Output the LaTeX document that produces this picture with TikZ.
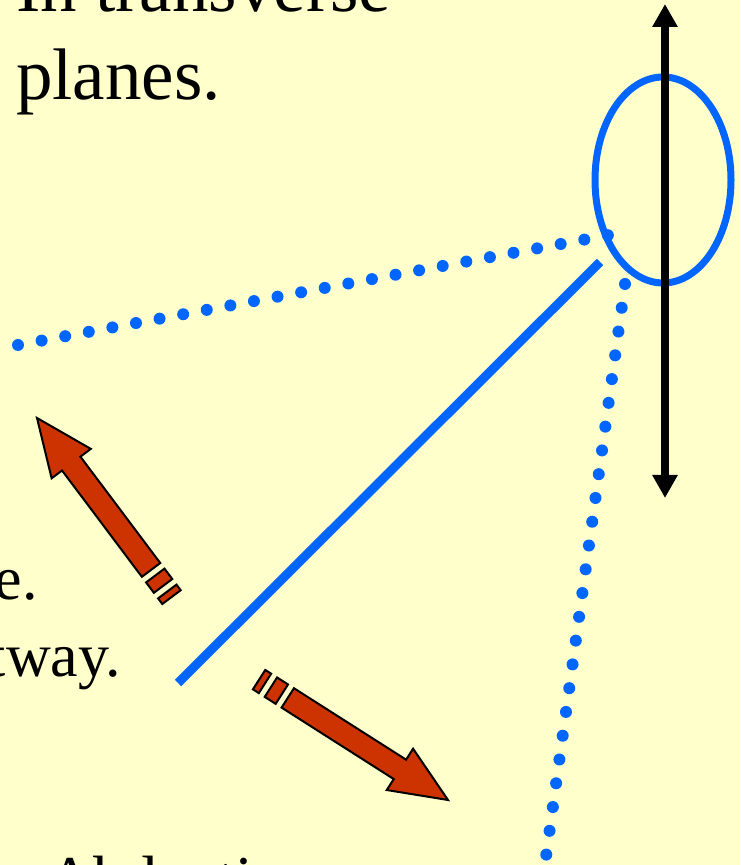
\documentclass[tikz,border=0pt]{standalone}
\usepackage{fontspec}
\setmainfont{Liberation Serif}
\usepackage{tikz}
\usetikzlibrary{arrows.meta, positioning}
\tikzset{
    slidetext/.style={inner sep=0pt, font=\fontsize{#1}{#1}\selectfont, text=black},
    bluering/.style={draw=ringblue, line width=7pt},
    bluebar/.style={draw=ringblue, line width=9pt, line cap=butt},
    bluedots/.style={draw=ringblue, line width=12pt, line cap=round, dash pattern=on 0pt off 24pt},
    axisline/.style={{Triangle[length=23pt, width=24pt]}-{Triangle[length=23pt, width=24pt]}, line width=8pt, black},
    redarrow/.style={fill=brickred, draw=black, line width=2pt, line join=miter}
}
\definecolor{slideyellow}{RGB}{255,255,204}
\definecolor{ringblue}{RGB}{0,102,255}
\definecolor{brickred}{RGB}{204,51,0}
\newcommand{\stripedarrow}[2]{%
  \begin{scope}[shift={(#1)}, rotate=#2]
    \draw[redarrow] (0,0) -- (-57,24.5) -- (-57,11.5) -- (-190,11.5) -- (-190,-11.5) -- (-57,-11.5) -- (-57,-24.5) -- cycle;
    \draw[redarrow] (-197,11.5) rectangle (-210,-11.5);
    \draw[redarrow] (-217,11.5) rectangle (-224,-11.5);
  \end{scope}}
\begin{document}
\begin{tikzpicture}[x=1pt, y=1pt]

\useasboundingbox (0,0) rectangle (740,865);
\fill[slideyellow] (0,0) rectangle (740,865);
\clip (0,0) rectangle (740,865);

\node[slidetext=73, anchor=base west] (line1) at (16,853) {In transverse};
\node[slidetext=73, anchor=base west] (line2) at (16,765) {planes.};
\node[slidetext=62, anchor=base east] (line3) at (38,265) {e.};
\node[slidetext=62, anchor=base east] (line4) at (121,188) {tway.};
\node[slidetext=64, anchor=base west] (line5) at (47,-35) {Abduction};

\coordinate (dotsAstart) at (18,520);
\coordinate (dotsAend) at (609,630);
\coordinate (dotsBstart) at (625,581);
\coordinate (dotsBend) at (545,1);
\coordinate (barlow) at (178,182);
\coordinate (barhigh) at (600,603);
\coordinate (axistop) at (665,861);
\coordinate (axisbottom) at (665,367);
\coordinate (tipup) at (37,447);
\coordinate (tipdown) at (448,65);

\draw[bluedots] (dotsAstart) -- (dotsAend);
\draw[bluedots] (dotsBstart) -- (dotsBend);
\draw[bluebar] (barlow) -- (barhigh);
\draw[bluering] (663,685) ellipse [x radius=68, y radius=103];
\draw[axisline] (axisbottom) -- (axistop);

\stripedarrow{tipup}{126.9}
\stripedarrow{tipdown}{-32.5}

\end{tikzpicture}
\end{document}
